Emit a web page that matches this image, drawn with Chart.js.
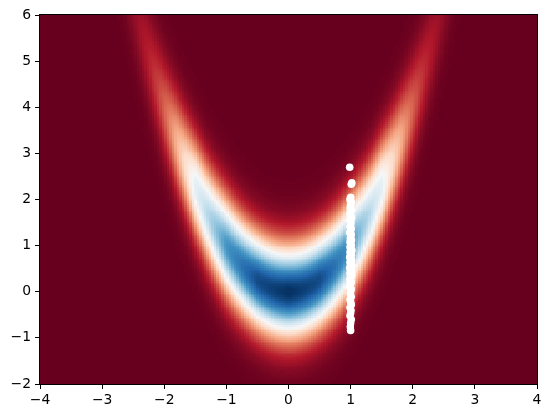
<!DOCTYPE html>
<html><head><meta charset="utf-8">
<script src="https://cdn.jsdelivr.net/npm/chart.js@4/dist/chart.umd.min.js"></script>
<style>html,body{margin:0;padding:0;background:#fff}#wrap{width:550px;height:418px}</style>
</head><body><div id="wrap"><canvas id="c" width="550" height="418"></canvas></div>
<script>
// ---- axes ----
const xTicks = [-4, -3, -2, -1, 0, 1, 2, 3, 4];
const yTicks = [-2, -1, 0, 1, 2, 3, 4, 5, 6];
// ---- heatmap grid (cells) ----
const gridXRange = [-4, 4];
const gridYRange = [-2, 6];
const gridStep = [0.04, 0.04];
const ridgeAbsX  = [0.0, 0.5, 1.0, 1.5, 1.8, 2.05, 2.35, 2.7, 3.2];
const ridgePeak  = [1.0, 0.95, 0.80, 0.55, 0.33, 0.18, 0.085, 0.03, 0.008];
const ridgeSigma = [0.68, 0.69, 0.72, 0.72, 0.72, 0.72, 0.72, 0.72, 0.72];
// ---- white sample points (column at x ~ 1) ----
const sampleY = [2.70, 2.36, 2.33, 2.05, 2.00, 1.95, 1.88, 1.82, 1.76, 1.70, 1.66, 1.60, 1.55, 1.50, 1.46, 1.41,
  1.37, 1.33, 1.28, 1.24, 1.20, 1.16, 1.12, 1.08, 1.05, 1.01, 0.97, 0.94, 0.90, 0.86, 0.83, 0.79, 0.75, 0.72,
  0.68, 0.64, 0.60, 0.56, 0.52, 0.48, 0.44, 0.40, 0.35, 0.30, 0.26, 0.21, 0.16, 0.11, 0.06, 0.00, -0.05, -0.11,
  -0.17, -0.22, -0.28, -0.34, -0.40, -0.46, -0.52, -0.60, -0.68, -0.76, -0.84];
const sampleX = [0.985, 1.02, 1.01, 1.00, 0.99, 1.01, 1.00, 0.995, 1.01, 0.99, 1.00, 1.015, 0.99, 1.005, 1.00, 0.99,
  1.01, 1.00, 0.985, 1.01, 1.00, 0.995, 1.015, 0.99, 1.00, 1.01, 0.99, 1.00, 1.02, 0.99, 1.00, 1.01, 0.985, 1.00,
  1.015, 0.99, 1.00, 1.02, 0.985, 1.00, 1.01, 0.99, 1.015, 1.00, 0.99, 1.01, 1.00, 0.985, 1.01, 1.00, 0.995, 1.01,
  0.99, 1.00, 1.01, 0.99, 1.005, 1.00, 0.99, 1.01, 1.00, 0.995, 1.00];
// ---- RdBu colormap stops ----
const rdbuStops = ['#67001f','#b2182b','#d6604d','#f4a582','#fddbc7','#f7f7f7','#d1e5f0','#92c5de','#4393c3','#2166ac','#053061'];

function hexRgb(h){return [parseInt(h.slice(1,3),16),parseInt(h.slice(3,5),16),parseInt(h.slice(5,7),16)];}
const stopRgb = rdbuStops.map(hexRgb);
const lut = [];
for (let k = 0; k <= 255; k++) {
  const t = k / 255 * (stopRgb.length - 1);
  const i = Math.min(Math.floor(t), stopRgb.length - 2), f = t - i;
  const a = stopRgb[i], b = stopRgb[i + 1];
  lut.push('rgb(' + Math.round(a[0] + (b[0] - a[0]) * f) + ',' + Math.round(a[1] + (b[1] - a[1]) * f) + ',' + Math.round(a[2] + (b[2] - a[2]) * f) + ')');
}
function ridgeAt(ax) {
  const n = ridgeAbsX.length;
  let i = 0;
  while (i < n - 2 && ax > ridgeAbsX[i + 1]) i++;
  const f = (ax - ridgeAbsX[i]) / (ridgeAbsX[i + 1] - ridgeAbsX[i]);
  const lp = Math.log(ridgePeak[i]) + (Math.log(ridgePeak[i + 1]) - Math.log(ridgePeak[i])) * f;
  const s = f > 1 ? ridgeSigma[n - 1] : ridgeSigma[i] + (ridgeSigma[i + 1] - ridgeSigma[i]) * f;
  return [Math.exp(lp), s];
}

const heatmap = {
  id: 'heatmap',
  beforeDatasetsDraw(chart) {
    const {ctx, chartArea: a, scales: {x, y}} = chart;
    ctx.save();
    ctx.beginPath(); ctx.rect(a.left, a.top, a.right - a.left, a.bottom - a.top); ctx.clip();
    const nx = Math.round((gridXRange[1] - gridXRange[0]) / gridStep[0]);
    const ny = Math.round((gridYRange[1] - gridYRange[0]) / gridStep[1]);
    for (let i = 0; i < nx; i++) {
      const xv0 = gridXRange[0] + i * gridStep[0], xv1 = xv0 + gridStep[0];
      const px0 = Math.round(x.getPixelForValue(xv0)), px1 = Math.round(x.getPixelForValue(xv1));
      if (px1 <= px0) continue;
      const cx = (xv0 + xv1) / 2;
      const [peak, sig] = ridgeAt(Math.abs(cx));
      const c = cx * cx;
      for (let j = 0; j < ny; j++) {
        const yv0 = gridYRange[0] + j * gridStep[1], yv1 = yv0 + gridStep[1];
        const py0 = Math.round(y.getPixelForValue(yv1)), py1 = Math.round(y.getPixelForValue(yv0));
        if (py1 <= py0) continue;
        const cy = (yv0 + yv1) / 2;
        const d = cy - c;
        const v = peak * Math.exp(-d * d / (2 * sig * sig));
        ctx.fillStyle = lut[Math.max(0, Math.min(255, Math.round(v * 255)))];
        ctx.fillRect(px0, py0, px1 - px0, py1 - py0);
      }
    }
    ctx.restore();
  },
  afterDraw(chart) {
    const {ctx, chartArea: a} = chart;
    ctx.save();
    ctx.strokeStyle = '#000'; ctx.lineWidth = 1;
    ctx.strokeRect(Math.round(a.left) - 0.5, Math.round(a.top) - 0.5, Math.round(a.right - a.left) + 1, Math.round(a.bottom - a.top) + 1);
    ctx.restore();
  }
};

const fmt = v => (v < 0 ? '\u2212' + Math.abs(v) : String(v));
const tickFont = {family: 'DejaVu Sans', size: 13.9};

new Chart(document.getElementById('c').getContext('2d'), {
  type: 'scatter',
  data: {datasets: [{
    data: sampleX.map((xv, i) => ({x: xv, y: sampleY[i]})),
    backgroundColor: '#ffffff', borderColor: '#ffffff', borderWidth: 0,
    pointRadius: 3.8, pointHoverRadius: 3.8
  }]},
  options: {
    responsive: false, animation: false, events: [],
    layout: {padding: {left: 0, right: 13, top: 15, bottom: 0}},
    plugins: {legend: {display: false}, tooltip: {enabled: false}},
    scales: {
      x: {
        type: 'linear', min: -4, max: 4,
        afterBuildTicks: s => { s.ticks = xTicks.map(v => ({value: v})); },
        afterFit: s => { s.height = 34; },
        grid: {drawOnChartArea: false, drawTicks: true, tickLength: 5, tickWidth: 1, tickColor: '#000'},
        border: {display: false},
        ticks: {color: '#000', font: tickFont, padding: 3, maxRotation: 0, autoSkip: false, callback: fmt}
      },
      y: {
        type: 'linear', min: -2, max: 6,
        afterBuildTicks: s => { s.ticks = yTicks.map(v => ({value: v})); },
        afterFit: s => { s.width = 40; },
        grid: {drawOnChartArea: false, drawTicks: true, tickLength: 5, tickWidth: 1, tickColor: '#000'},
        border: {display: false},
        ticks: {color: '#000', font: tickFont, padding: 4, autoSkip: false, callback: fmt}
      }
    }
  },
  plugins: [heatmap]
});
</script>
</body></html>
